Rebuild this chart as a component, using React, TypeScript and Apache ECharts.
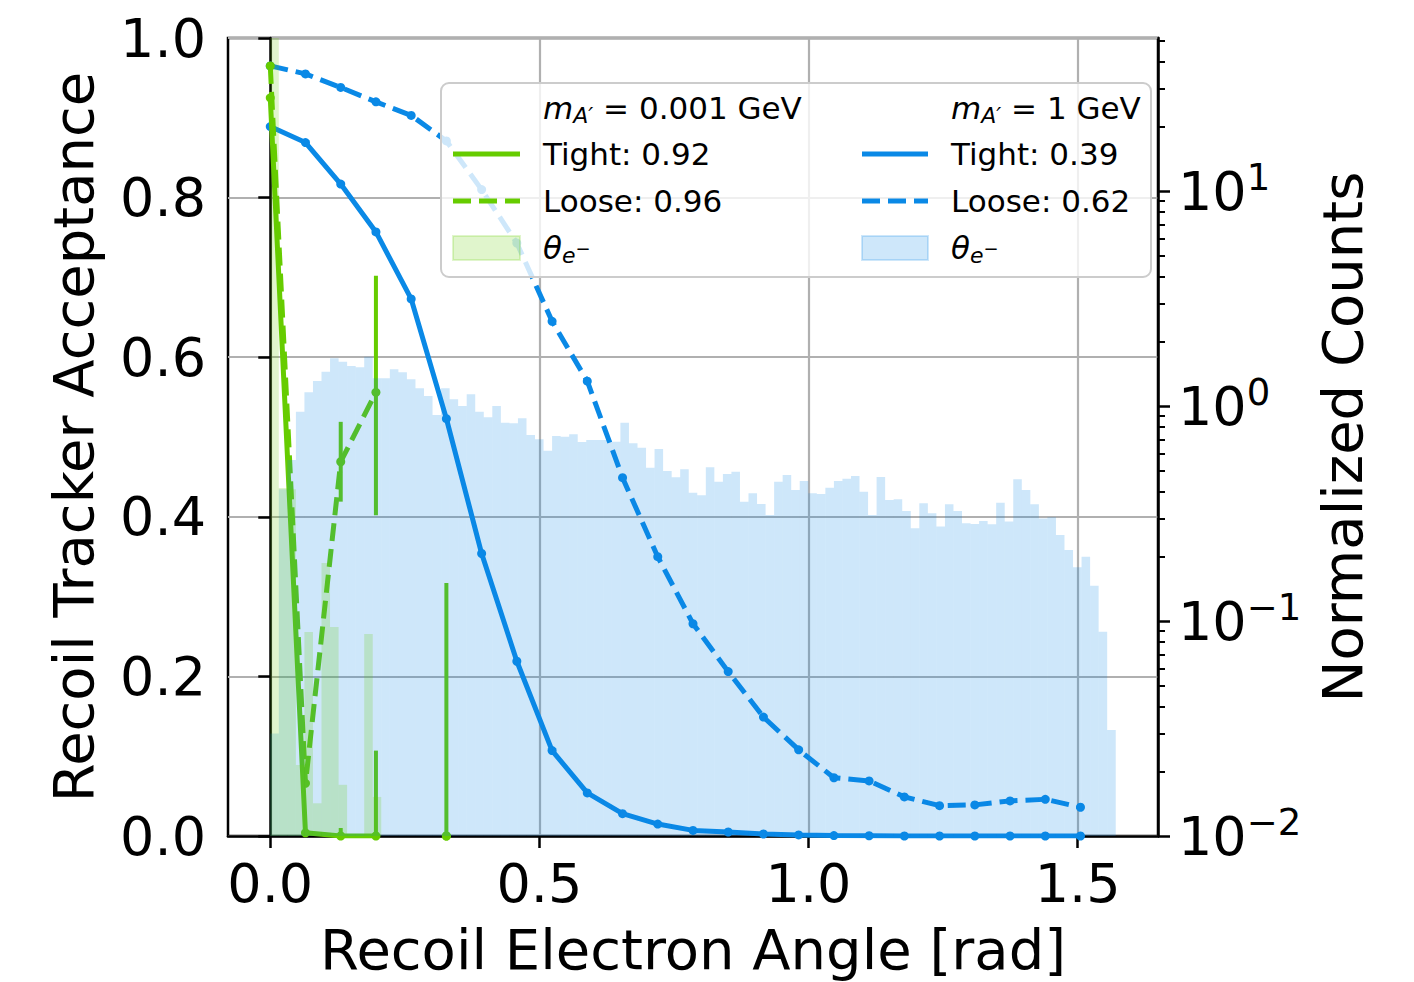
import React, { useEffect, useRef } from "react";
import * as echarts from "echarts";

// ---------------- data ----------------
// Angles (rad) at which the acceptance was evaluated
const ANGLES = [
  0, 0.0654, 0.1309, 0.1963, 0.2618, 0.3272, 0.3927, 0.4581, 0.5236, 0.589,
  0.6545, 0.7199, 0.7854, 0.8508, 0.9163, 0.9817, 1.0472, 1.1126, 1.1781,
  1.2435, 1.309, 1.3744, 1.4399, 1.5053,
];
// m_A' = 1 GeV
const BLUE_TIGHT = [
  0.889, 0.869, 0.817, 0.757, 0.673, 0.523, 0.354, 0.219, 0.107, 0.054, 0.028,
  0.015, 0.007, 0.005, 0.0025, 0.0013, 0.0005, 0.0003, 0, 0, 0, 0, 0, 0,
];
const BLUE_LOOSE = [
  0.965, 0.955, 0.938, 0.92, 0.903, 0.871, 0.81, 0.743, 0.645, 0.57, 0.449,
  0.35, 0.266, 0.206, 0.149, 0.108, 0.073, 0.069, 0.049, 0.038, 0.039, 0.044,
  0.046, 0.036,
];
// m_A' = 0.001 GeV (null = no events in that angle bin)
const GREEN_TIGHT: (number | null)[] = [0.925, 0.004, 0, 0, null, 0];
const GREEN_LOOSE: (number | null)[] = [0.965, 0.066, 0.469, 0.556, null, 0];
// [angle, low, high] uncertainty bars of the 0.001 GeV sample
const GREEN_ERRORS = [
  [0.1309, 0.419, 0.519],
  [0.1309, 0, 0.01],
  [0.1963, 0.402, 0.702],
  [0.1963, 0, 0.107],
  [0.3272, 0, 0.317],
];

// Histograms of theta_e- (density), 99 equal bins from 0 to pi/2
const HIST_MIN = 0;
const HIST_MAX = Math.PI / 2;
const N_BINS = 99;
const BLUE_HIST = [
  0.03, 0.41, 0.561, 0.941, 1.158, 1.307, 1.444, 1.667, 1.607, 1.535,
  1.514, 1.696, 1.345, 1.345, 1.481, 1.435, 1.331, 1.209, 1.113, 0.908,
  1.209, 1.075, 1.0, 1.133, 0.941, 0.886, 1.0, 0.836, 0.831, 0.877,
  0.733, 0.7, 0.62, 0.725, 0.72, 0.739, 0.68, 0.695, 0.695, 0.695,
  0.682, 0.836, 0.671, 0.64, 0.516, 0.631, 0.498, 0.466, 0.508, 0.395,
  0.385, 0.519, 0.444, 0.483, 0.495, 0.359, 0.393, 0.35, 0.311, 0.444,
  0.478, 0.407, 0.448, 0.393, 0.39, 0.417, 0.448, 0.459, 0.472, 0.399,
  0.311, 0.467, 0.365, 0.368, 0.325, 0.27, 0.353, 0.317, 0.275, 0.349,
  0.325, 0.285, 0.283, 0.292, 0.282, 0.355, 0.29, 0.456, 0.407, 0.349,
  0.3, 0.304, 0.251, 0.214, 0.178, 0.199, 0.146, 0.0892, 0.0311,
];
const GREEN_HIST = [
  61.7, 0.416, 0.41, 0.0214, 0.0889, 0.0142, 0.186, 0.0938, 0.0173, 0, 0,
  0.0871, 0.0152,
];

// ticks
const X_TICKS = [0, 0.5, 1.0, 1.5];
const RIGHT_TICKS = [0.01, 0.1, 1, 10];
const RIGHT_MINOR_TICKS = [
  0.02, 0.03, 0.04, 0.05, 0.06, 0.07, 0.08, 0.09, 0.2, 0.3, 0.4, 0.5, 0.6,
  0.7, 0.8, 0.9, 2, 3, 4, 5, 6, 7, 8, 9, 20, 30, 40, 50,
];
const RIGHT_MIN = 0.01;
const RIGHT_MAX = 51.5;
const X_MIN = -0.05 * HIST_MAX;
const X_MAX = 1.05 * HIST_MAX;

// legend texts
const MASSES = ["0.001", "1"];
const TIGHT_ACC = ["0.92", "0.39"];
const LOOSE_ACC = ["0.96", "0.62"];

// ---------------- style ----------------
const FONT = "DejaVu Sans";
const BLUE = "#0a89e6";
const GREEN = "#66cc00";
const BLUE_FILL = "rgba(10,137,230,0.2)";
const GREEN_FILL = "rgba(102,204,0,0.2)";
const DASH = [18, 8];
const LW = 5;
const TICK_FONT = 54;

function edge(i: number) {
  return HIST_MIN + (i * (HIST_MAX - HIST_MIN)) / N_BINS;
}

function lineSeries(name: string, values: (number | null)[], color: string, dashed: boolean, z: number) {
  return {
    type: "line",
    name,
    xAxisIndex: 0,
    yAxisIndex: 0,
    data: values.map((v, i) => [ANGLES[i], v === null ? "-" : v]),
    connectNulls: false,
    symbol: "circle",
    symbolSize: 9,
    showSymbol: true,
    itemStyle: { color },
    lineStyle: { color, width: LW, type: dashed ? DASH : "solid", cap: "butt" },
    z,
    silent: true,
  };
}

function histSeries(name: string, values: number[], fill: string, z: number) {
  const data: number[][] = [];
  values.forEach((v, i) => {
    if (v > 0) data.push([edge(i), edge(i + 1), v]);
  });
  return {
    type: "custom",
    name,
    xAxisIndex: 0,
    yAxisIndex: 1,
    data,
    encode: { x: [0, 1], y: 2 },
    z,
    silent: true,
    renderItem: (_p: any, api: any) => {
      const v = Math.min(api.value(2), RIGHT_MAX);
      const a = api.coord([api.value(0), v]);
      const b = api.coord([api.value(1), RIGHT_MIN]);
      return {
        type: "rect",
        shape: { x: a[0], y: a[1], width: b[0] - a[0], height: b[1] - a[1] },
        style: { fill },
      };
    },
  };
}

function buildLegend() {
  const L = { x: 441, y: 83, w: 710, h: 194 };
  const rows = [108, 154, 201, 248];
  const Z = 100;
  const cols = [
    { hx0: 453, hx1: 520, tx: 543, color: GREEN, fill: GREEN_FILL },
    { hx0: 862, hx1: 928, tx: 951, color: BLUE, fill: BLUE_FILL },
  ];
  const rich = {
    i: { fontSize: 31, fontStyle: "italic", fontFamily: FONT, lineHeight: 36, fill: "#000" },
    n: { fontSize: 31, fontFamily: FONT, lineHeight: 36, fill: "#000" },
    s: { fontSize: 22, fontStyle: "italic", fontFamily: FONT, lineHeight: 22, verticalAlign: "bottom", fill: "#000" },
    m: { fontSize: 18, fontFamily: FONT, lineHeight: 18, verticalAlign: "middle", fill: "#000" },
  };
  const els: any[] = [
    {
      type: "rect",
      z: Z,
      shape: { x: L.x, y: L.y, width: L.w, height: L.h, r: 8 },
      style: { fill: "rgba(255,255,255,0.8)", stroke: "#cccccc", lineWidth: 2 },
    },
  ];
  cols.forEach((c, k) => {
    const texts = [
      `{i|m}{s|A\u2032}{n| = ${MASSES[k]} GeV}`,
      `{n|Tight: ${TIGHT_ACC[k]}}`,
      `{n|Loose: ${LOOSE_ACC[k]}}`,
      `{i|\u03b8}{s|e}{m|\u2212}`,
    ];
    texts.forEach((t, r) => {
      els.push({
        type: "text",
        z: Z + 1,
        x: c.tx,
        y: rows[r],
        style: { text: t, rich, align: "left", verticalAlign: "middle", fill: "#000" },
      });
    });
    els.push({
      type: "line",
      z: Z + 1,
      shape: { x1: c.hx0, y1: rows[1], x2: c.hx1, y2: rows[1] },
      style: { stroke: c.color, lineWidth: LW },
    });
    els.push({
      type: "line",
      z: Z + 1,
      shape: { x1: c.hx0, y1: rows[2], x2: c.hx1, y2: rows[2] },
      style: { stroke: c.color, lineWidth: LW, lineDash: DASH },
    });
    els.push({
      type: "rect",
      z: Z + 1,
      shape: { x: c.hx0, y: rows[3] - 12, width: c.hx1 - c.hx0, height: 24 },
      style: { fill: c.fill, stroke: c.fill, lineWidth: 2 },
    });
  });
  return els;
}

function supLabel(v: number) {
  const e = Math.round(Math.log10(v));
  const s = e < 0 ? "\u2212" + -e : String(e);
  return `{b|10}{s|${s}}`;
}

export default function App() {
  const ref = useRef<HTMLDivElement>(null);
  useEffect(() => {
    if (!ref.current) return;
    const chart = echarts.init(ref.current, undefined, { renderer: "svg" });
    const tickStyle = { color: "#000", width: 2.5 };
    const option: any = {
      animation: false,
      backgroundColor: "#fff",
      grid: {
        left: 228,
        right: 256,
        top: 38,
        bottom: 146,
        show: true,
        borderColor: "#000",
        borderWidth: 2.5,
        backgroundColor: "transparent",
      },
      xAxis: [
        {
          type: "value",
          min: X_MIN,
          max: X_MAX,
          position: "bottom",
          name: "Recoil Electron Angle [rad]",
          nameLocation: "middle",
          nameGap: 85,
          nameTextStyle: { fontSize: 56, fontFamily: FONT, color: "#000" },
          axisLine: { show: true, lineStyle: tickStyle, onZero: false },
          axisTick: { show: true, customValues: X_TICKS, length: 12, lineStyle: tickStyle },
          axisLabel: {
            customValues: X_TICKS,
            margin: 20,
            fontSize: TICK_FONT,
            fontFamily: FONT,
            color: "#000",
            formatter: (v: number) => v.toFixed(1),
          },
          splitLine: { show: true, lineStyle: { color: "#b0b0b0", width: 2.2 } },
        },
      ],
      yAxis: [
        {
          type: "value",
          min: 0,
          max: 1,
          interval: 0.2,
          position: "left",
          name: "Recoil Tracker Acceptance",
          nameLocation: "middle",
          nameGap: 127,
          nameTextStyle: { fontSize: 56, fontFamily: FONT, color: "#000" },
          axisLine: { show: true, lineStyle: tickStyle },
          axisTick: { show: true, length: 12, lineStyle: tickStyle },
          axisLabel: {
            margin: 22,
            fontSize: TICK_FONT,
            fontFamily: FONT,
            color: "#000",
            formatter: (v: number) => v.toFixed(1),
          },
          splitLine: { show: true, lineStyle: { color: "#b0b0b0", width: 2.2 } },
        },
        {
          type: "log",
          logBase: 10,
          min: RIGHT_MIN,
          max: RIGHT_MAX,
          position: "right",
          name: "Normalized Counts",
          nameLocation: "middle",
          nameRotate: 90,
          nameGap: 156,
          nameTextStyle: { fontSize: 56, fontFamily: FONT, color: "#000" },
          axisLine: { show: true, lineStyle: tickStyle },
          axisTick: { show: true, customValues: RIGHT_TICKS, length: 12, lineStyle: tickStyle },
          axisLabel: {
            customValues: RIGHT_TICKS,
            margin: 20,
            formatter: supLabel,
            rich: {
              b: { fontSize: TICK_FONT, lineHeight: 64, fontFamily: FONT, color: "#000" },
              s: { fontSize: 37, lineHeight: 37, fontFamily: FONT, color: "#000", verticalAlign: "top" },
            },
          },
          splitLine: { show: false },
          minorTick: { show: false },
        },
        {
          type: "log",
          logBase: 10,
          min: RIGHT_MIN,
          max: RIGHT_MAX,
          position: "right",
          offset: 0,
          axisLine: { show: false },
          axisTick: {
            show: true,
            customValues: RIGHT_MINOR_TICKS,
            length: 7,
            lineStyle: { color: "#000", width: 2 },
          },
          axisLabel: { show: false },
          splitLine: { show: false },
        },
      ],
      series: [
        lineSeries("1 GeV tight", BLUE_TIGHT, BLUE, false, 2),
        lineSeries("1 GeV loose", BLUE_LOOSE, BLUE, true, 2),
        lineSeries("0.001 GeV tight", GREEN_TIGHT, GREEN, false, 3),
        lineSeries("0.001 GeV loose", GREEN_LOOSE, GREEN, true, 3),
        {
          type: "custom",
          name: "0.001 GeV errors",
          xAxisIndex: 0,
          yAxisIndex: 0,
          data: GREEN_ERRORS,
          encode: { x: 0, y: [1, 2] },
          z: 3,
          silent: true,
          renderItem: (_p: any, api: any) => {
            const a = api.coord([api.value(0), api.value(1)]);
            const b = api.coord([api.value(0), api.value(2)]);
            return {
              type: "line",
              shape: { x1: a[0], y1: a[1], x2: b[0], y2: b[1] },
              style: { stroke: GREEN, lineWidth: 4 },
            };
          },
        },
        histSeries("theta 1 GeV", BLUE_HIST, BLUE_FILL, 5),
        histSeries("theta 0.001 GeV", GREEN_HIST, GREEN_FILL, 6),
      ],
      graphic: buildLegend(),
    };
    chart.setOption(option);
    return () => chart.dispose();
  }, []);
  return (
    <div
      ref={ref}
      style={{ position: "fixed", left: 0, top: 0, width: 1414, height: 982, background: "#fff" }}
    />
  );
}
